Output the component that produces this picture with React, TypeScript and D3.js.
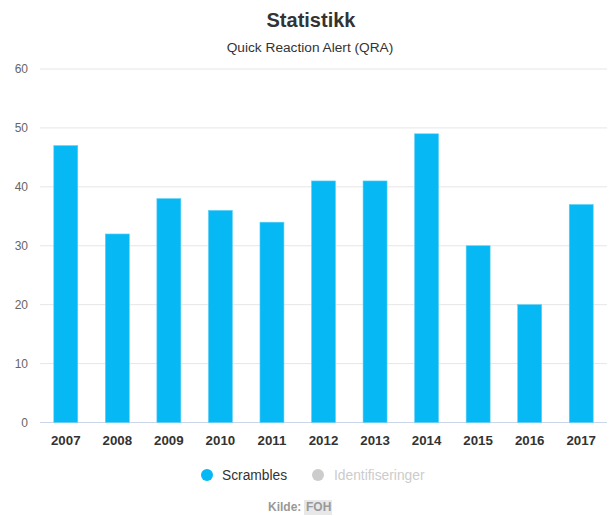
import React from 'react';
import * as d3 from 'd3';

const years = ['2007', '2008', '2009', '2010', '2011', '2012', '2013', '2014', '2015', '2016', '2017'];
const scrambles = [47, 32, 38, 36, 34, 41, 41, 49, 30, 20, 37];
const yTicks = [0, 10, 20, 30, 40, 50, 60];

const W = 610;
const H = 516;
const margin = { top: 69, right: 3, bottom: 93.5, left: 40 };
const font = "'Liberation Sans', Arial, Helvetica, sans-serif";
const barColor = '#06b8f3';

const App: React.FC = () => {
  const x = d3.scaleBand<string>()
    .domain(years)
    .range([margin.left, W - margin.right])
    .paddingInner(0.535)
    .paddingOuter(0.2675);

  const y = d3.scaleLinear()
    .domain([0, 60])
    .range([H - margin.bottom, margin.top]);

  return (
    <svg
      width={W}
      height={H}
      style={{ position: 'absolute', left: 0, top: 0, display: 'block', background: '#fff' }}
      fontFamily={font}
    >
      <text x={311} y={27} textAnchor="middle" fontSize={20} fontWeight="bold" fill="#333">Statistikk</text>
      <text x={310} y={52} textAnchor="middle" fontSize={13.7} fill="#333">Quick Reaction Alert (QRA)</text>

      {/* grid + y axis */}
      {yTicks.map(t => (
        <g key={t}>
          <line
            x1={margin.left}
            x2={W - margin.right}
            y1={y(t)}
            y2={y(t)}
            stroke={t === 0 ? '#ccd6eb' : '#e6e6e6'}
            strokeWidth={1}
          />
          <text x={28} y={y(t) + 4} textAnchor="end" fontSize={12} fill="#666">{t}</text>
        </g>
      ))}

      {/* bars */}
      {years.map((yr, i) => (
        <rect
          key={yr}
          x={x(yr)}
          y={y(scrambles[i])}
          width={x.bandwidth()}
          height={y(0) - y(scrambles[i])}
          fill={barColor}
          stroke="#5fd0f7"
          strokeWidth={0.6}
        />
      ))}

      {/* x labels */}
      {years.map(yr => (
        <text
          key={yr}
          x={(x(yr) ?? 0) + x.bandwidth() / 2}
          y={445}
          textAnchor="middle"
          fontSize={13.3}
          fontWeight="bold"
          fill="#333"
        >
          {yr}
        </text>
      ))}

      {/* legend */}
      <circle cx={207} cy={475} r={6} fill={barColor} />
      <text x={222} y={480} fontSize={13.8} fill="#333">Scrambles</text>
      <circle cx={318} cy={475} r={6} fill="#cccccc" />
      <text x={334} y={480} fontSize={13.8} fill="#cccccc">Identifiseringer</text>

      {/* credits */}
      <text x={268} y={511} fontSize={12} fontWeight="bold" fill="#999">Kilde:</text>
      <rect x={304} y={500} width={28} height={15} fill="#e8e8e8" />
      <text x={306} y={511} fontSize={12} fontWeight="bold" fill="#999">FOH</text>
    </svg>
  );
};

export default App;
